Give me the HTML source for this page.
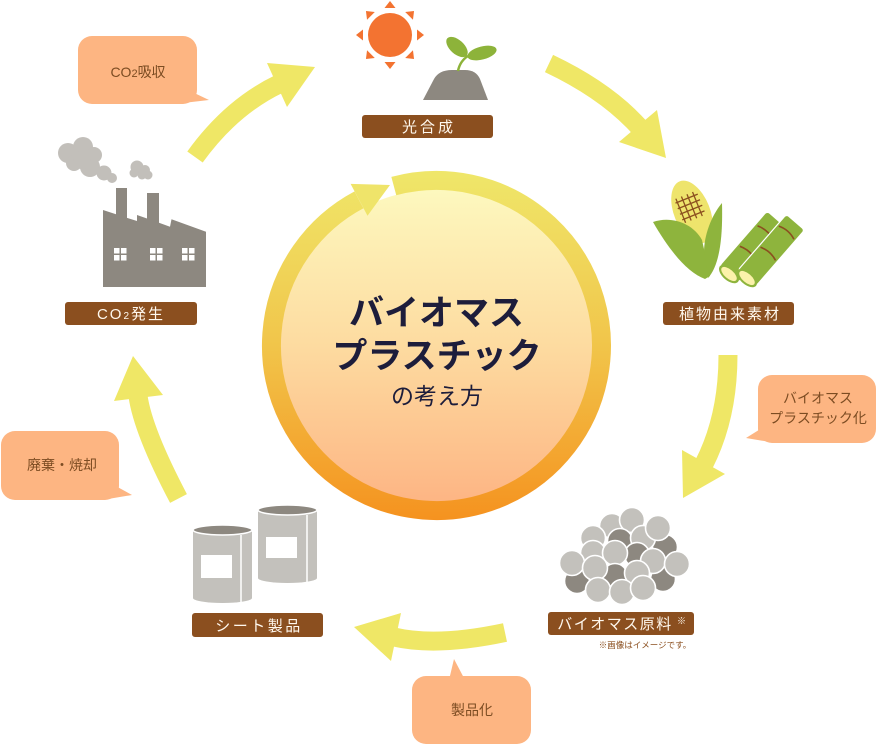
<!DOCTYPE html>
<html><head><meta charset="utf-8">
<style>
html,body{margin:0;padding:0;background:#fff;}
svg{display:block;}
text{font-family:"Liberation Sans","Noto Sans CJK JP",sans-serif;}
</style></head>
<body>
<svg width="877" height="745" viewBox="0 0 877 745" xmlns="http://www.w3.org/2000/svg">
<defs>
<linearGradient id="ring" gradientUnits="userSpaceOnUse" x1="0" y1="170" x2="0" y2="521">
<stop offset="0" stop-color="#EFE76A"/>
<stop offset="0.5" stop-color="#F1C54A"/>
<stop offset="1" stop-color="#F5921F"/>
</linearGradient>
<linearGradient id="inner" gradientUnits="userSpaceOnUse" x1="0" y1="190" x2="0" y2="502">
<stop offset="0" stop-color="#FDF8BE"/>
<stop offset="0.5" stop-color="#FDDBA0"/>
<stop offset="1" stop-color="#FDB584"/>
</linearGradient>
</defs>

<!-- yellow cycle arrows -->
<g fill="none" stroke="#EFE766" stroke-width="19">
<path d="M195,157 Q231,107 279,84"/>
<path d="M549,63.5 Q607,91 640,128"/>
<path d="M728,355 Q728,417 704,464"/>
<path d="M505,632.5 Q437,647 394,637"/>
<path d="M178.5,498.5 Q143,431 138,396"/>
</g>
<g fill="#EFE766">
<polygon points="267,63 315,67 287,107"/>
<polygon points="657,110 666,158 619,142"/>
<polygon points="682,450 683,498 725,474"/>
<polygon points="401,613 354,627 391,661"/>
<polygon points="114,401 133,356 163,395"/>
</g>

<!-- center circle -->
<circle cx="436.5" cy="345.5" r="156" fill="url(#inner)"/>
<path d="M393.8,186.1 A165,165 0 1 1 359,199.8" fill="none" stroke="url(#ring)" stroke-width="19"/>
<polygon points="350.6,183.9 390,185 367.5,215.7" fill="#EFE46A"/>
<text x="436.5" y="325" text-anchor="middle" font-size="35" font-weight="700" fill="#1D1D3B" style="font-family:'Noto Sans CJK JP',sans-serif">バイオマス</text>
<text x="437" y="368" text-anchor="middle" font-size="35" font-weight="700" fill="#1D1D3B" style="font-family:'Noto Sans CJK JP',sans-serif">プラスチック</text>
<text x="437" y="404" text-anchor="middle" font-size="23" fill="#1D1D3B" style="font-family:'Noto Sans CJK JP',sans-serif">の考え方</text>

<!-- sun -->
<g fill="#F37331">
<circle cx="390" cy="35" r="22"/>
<g transform="translate(390,35)">
<polygon points="-5.5,-27 5.5,-27 0,-34"/>
<polygon points="-5.5,-27 5.5,-27 0,-34" transform="rotate(45)"/>
<polygon points="-5.5,-27 5.5,-27 0,-34" transform="rotate(90)"/>
<polygon points="-5.5,-27 5.5,-27 0,-34" transform="rotate(135)"/>
<polygon points="-5.5,-27 5.5,-27 0,-34" transform="rotate(180)"/>
<polygon points="-5.5,-27 5.5,-27 0,-34" transform="rotate(225)"/>
<polygon points="-5.5,-27 5.5,-27 0,-34" transform="rotate(270)"/>
<polygon points="-5.5,-27 5.5,-27 0,-34" transform="rotate(315)"/>
</g>
</g>
<!-- mound + sprout -->
<path d="M423,100 L434,79 Q439,70 452,70 L465,70 Q476,70 480,79 L488,100 Z" fill="#8D8880"/>
<path d="M458,71 Q460,61 468,56" fill="none" stroke="#8DB33A" stroke-width="2.5"/>
<ellipse cx="457" cy="47" rx="13" ry="7" transform="rotate(42 457 47)" fill="#8DB33A"/>
<ellipse cx="482" cy="53" rx="15" ry="6.5" transform="rotate(-15 482 53)" fill="#8DB33A"/>
<rect x="362" y="115" width="131" height="23" rx="3" fill="#8B4F1F"/>
<text x="429" y="132" text-anchor="middle" font-size="15" letter-spacing="3" fill="#FFF8EE">光合成</text>

<!-- corn -->
<ellipse cx="692" cy="212" rx="18" ry="33" transform="rotate(-22 692 212)" fill="#EEE46C"/>
<g transform="rotate(-22 690 207)" stroke="#8B4F1F" stroke-width="1.3">
<line x1="678" y1="198" x2="702" y2="198"/>
<line x1="678" y1="204" x2="702" y2="204"/>
<line x1="678" y1="210" x2="702" y2="210"/>
<line x1="678" y1="216" x2="702" y2="216"/>
<line x1="680" y1="194" x2="680" y2="220"/>
<line x1="686" y1="194" x2="686" y2="220"/>
<line x1="692" y1="194" x2="692" y2="220"/>
<line x1="698" y1="194" x2="698" y2="220"/>
</g>
<path d="M653,222 C670,216 692,222 702,240 L710,276 L705,279 C686,272 668,248 653,222 Z" fill="#8EB43D"/>
<path d="M722,203 C711,216 704,236 704,252 L708,278 C719,266 723,240 722,203 Z" fill="#8EB43D"/>
<!-- sugarcane -->
<g transform="translate(729,274) rotate(-49)">
<rect x="0" y="-12" width="72" height="24" rx="3" fill="#8EB43D"/>
<ellipse cx="0" cy="0" rx="6.5" ry="12" fill="#8EB43D"/>
<ellipse cx="0" cy="0" rx="4.5" ry="9.5" fill="#FBF2AA"/>
<path d="M28,-10 Q32,0 28,10" fill="none" stroke="#8B4F1F" stroke-width="1.6"/>
<path d="M55,-10 Q59,0 55,10" fill="none" stroke="#8B4F1F" stroke-width="1.6"/>
</g>
<g transform="translate(747,278) rotate(-49)">
<rect x="0" y="-12" width="74" height="24" rx="3" fill="#8EB43D" stroke="#fff" stroke-width="1.2"/>
<ellipse cx="0" cy="0" rx="6.5" ry="12" fill="#8EB43D"/>
<ellipse cx="0" cy="0" rx="4.5" ry="9.5" fill="#FBF2AA"/>
<path d="M32,-10 Q36,0 32,10" fill="none" stroke="#8B4F1F" stroke-width="1.6"/>
<path d="M60,-10 Q64,0 60,10" fill="none" stroke="#8B4F1F" stroke-width="1.6"/>
</g>
<rect x="663" y="302" width="131" height="23" rx="3" fill="#8B4F1F"/>
<text x="730" y="319" text-anchor="middle" font-size="15" letter-spacing="2" fill="#FFF8EE">植物由来素材</text>

<!-- factory -->
<g fill="#C2BFBA">
<circle cx="68" cy="153" r="10"/>
<circle cx="83" cy="147" r="10"/>
<circle cx="94" cy="155" r="8"/>
<circle cx="74" cy="163" r="8"/>
<circle cx="90" cy="167" r="10"/>
<circle cx="104" cy="173" r="7.5"/>
<circle cx="112" cy="178" r="5"/>
<circle cx="82" cy="160" r="9"/>
<circle cx="137" cy="167" r="6.5"/>
<circle cx="145" cy="170" r="5"/>
<circle cx="134" cy="173" r="4.5"/>
<circle cx="148" cy="175" r="4.5"/>
<circle cx="142" cy="175" r="4.5"/>
</g>
<path d="M103,287 L103,210 L116,214.3 L116,188 L127,188 L127,217.9 L137,221 L137,215 L147,218.5 L147,193 L159,193 L159,222.8 L170,226.7 L171.5,219.3 L206,231.7 L206,287 Z" fill="#8D8880"/>
<g fill="#fff">
<rect x="114" y="248" width="5.5" height="5.5"/><rect x="121" y="248" width="5.5" height="5.5"/>
<rect x="114" y="255" width="5.5" height="5.5"/><rect x="121" y="255" width="5.5" height="5.5"/>
<rect x="150" y="248" width="5.5" height="5.5"/><rect x="157" y="248" width="5.5" height="5.5"/>
<rect x="150" y="255" width="5.5" height="5.5"/><rect x="157" y="255" width="5.5" height="5.5"/>
<rect x="182" y="248" width="5.5" height="5.5"/><rect x="189" y="248" width="5.5" height="5.5"/>
<rect x="182" y="255" width="5.5" height="5.5"/><rect x="189" y="255" width="5.5" height="5.5"/>
</g>
<rect x="65" y="302" width="132" height="23" rx="3" fill="#8B4F1F"/>
<text x="131" y="319" text-anchor="middle" font-size="15" letter-spacing="2" fill="#FFF8EE">CO<tspan font-size="10">2</tspan>発生</text>

<!-- pellets -->
<g stroke="#fff" stroke-width="1.6">
<circle cx="612" cy="526" r="12.5" fill="#C3C1BC"/>
<circle cx="632" cy="520" r="12.5" fill="#C3C1BC"/>
<circle cx="620" cy="541" r="12.5" fill="#8D8880"/>
<circle cx="665" cy="547" r="12.5" fill="#8D8880"/>
<circle cx="643" cy="538" r="12.5" fill="#C3C1BC"/>
<circle cx="658" cy="528" r="12.5" fill="#C3C1BC"/>
<circle cx="593" cy="538" r="12.5" fill="#C3C1BC"/>
<circle cx="637" cy="555" r="12.5" fill="#8D8880"/>
<circle cx="593" cy="553" r="12.5" fill="#C3C1BC"/>
<circle cx="615" cy="553" r="12.5" fill="#C3C1BC"/>
<circle cx="577" cy="581" r="12.5" fill="#8D8880"/>
<circle cx="572" cy="563" r="12.5" fill="#C3C1BC"/>
<circle cx="663" cy="579" r="12.5" fill="#8D8880"/>
<circle cx="653" cy="561" r="12.5" fill="#C3C1BC"/>
<circle cx="677" cy="564" r="12.5" fill="#C3C1BC"/>
<circle cx="615" cy="576" r="12.5" fill="#8D8880"/>
<circle cx="595" cy="568" r="12.5" fill="#C3C1BC"/>
<circle cx="637" cy="573" r="12.5" fill="#C3C1BC"/>
<circle cx="598" cy="590" r="12.5" fill="#C3C1BC"/>
<circle cx="622" cy="592" r="12.5" fill="#C3C1BC"/>
<circle cx="643" cy="588" r="12.5" fill="#C3C1BC"/>
</g>
<rect x="548" y="612" width="146" height="23" rx="3" fill="#8B4F1F"/>
<text x="615" y="629" text-anchor="middle" font-size="15" letter-spacing="1.5" fill="#FFF8EE">バイオマス原料</text>
<text x="677" y="624" font-size="9" fill="#FFF8EE">※</text>
<text x="645" y="648" text-anchor="middle" font-size="8.5" fill="#8B4F1F">※画像はイメージです。</text>

<!-- cans -->
<path d="M193,530 L193,598 A29.5,5 0 0 0 252,598 L252,530 Z" fill="#C3C1BC"/>
<ellipse cx="222.5" cy="530" rx="29.5" ry="5" fill="#8D8880" stroke="#fff" stroke-width="1.5"/>
<line x1="241" y1="535" x2="241" y2="602" stroke="#fff" stroke-width="1.5"/>
<rect x="201" y="555" width="31" height="23" fill="#fff"/>
<path d="M258,510 L258,578 A29.5,5 0 0 0 317,578 L317,510 Z" fill="#C3C1BC"/>
<ellipse cx="287.5" cy="510" rx="29.5" ry="5" fill="#8D8880" stroke="#fff" stroke-width="1.5"/>
<line x1="307" y1="515" x2="307" y2="582" stroke="#fff" stroke-width="1.5"/>
<rect x="266" y="537" width="31" height="21" fill="#fff"/>
<rect x="192" y="613" width="131" height="24" rx="3" fill="#8B4F1F"/>
<text x="259" y="631" text-anchor="middle" font-size="15" letter-spacing="2.5" fill="#FFF8EE">シート製品</text>

<!-- speech bubbles -->
<g fill="#FDB582">
<rect x="78" y="36" width="119" height="68" rx="14"/>
<polygon points="188,90 209,100 183,103"/>
<rect x="758" y="375" width="118" height="68" rx="14"/>
<polygon points="762,428 746,438 770,442"/>
<rect x="412" y="676" width="119" height="68" rx="14"/>
<polygon points="449,680 454,659 465,680"/>
<rect x="1" y="431" width="118" height="69" rx="14"/>
<polygon points="112,484 132,495 108,499"/>
</g>
<g fill="#7C4C22" font-size="14" text-anchor="middle">
<text x="138" y="77">CO<tspan font-size="11">2</tspan>吸収</text>
<text x="818" y="403">バイオマス</text>
<text x="818" y="423">プラスチック化</text>
<text x="472" y="715">製品化</text>
<text x="62" y="470">廃棄・焼却</text>
</g>
</svg>
</body></html>
